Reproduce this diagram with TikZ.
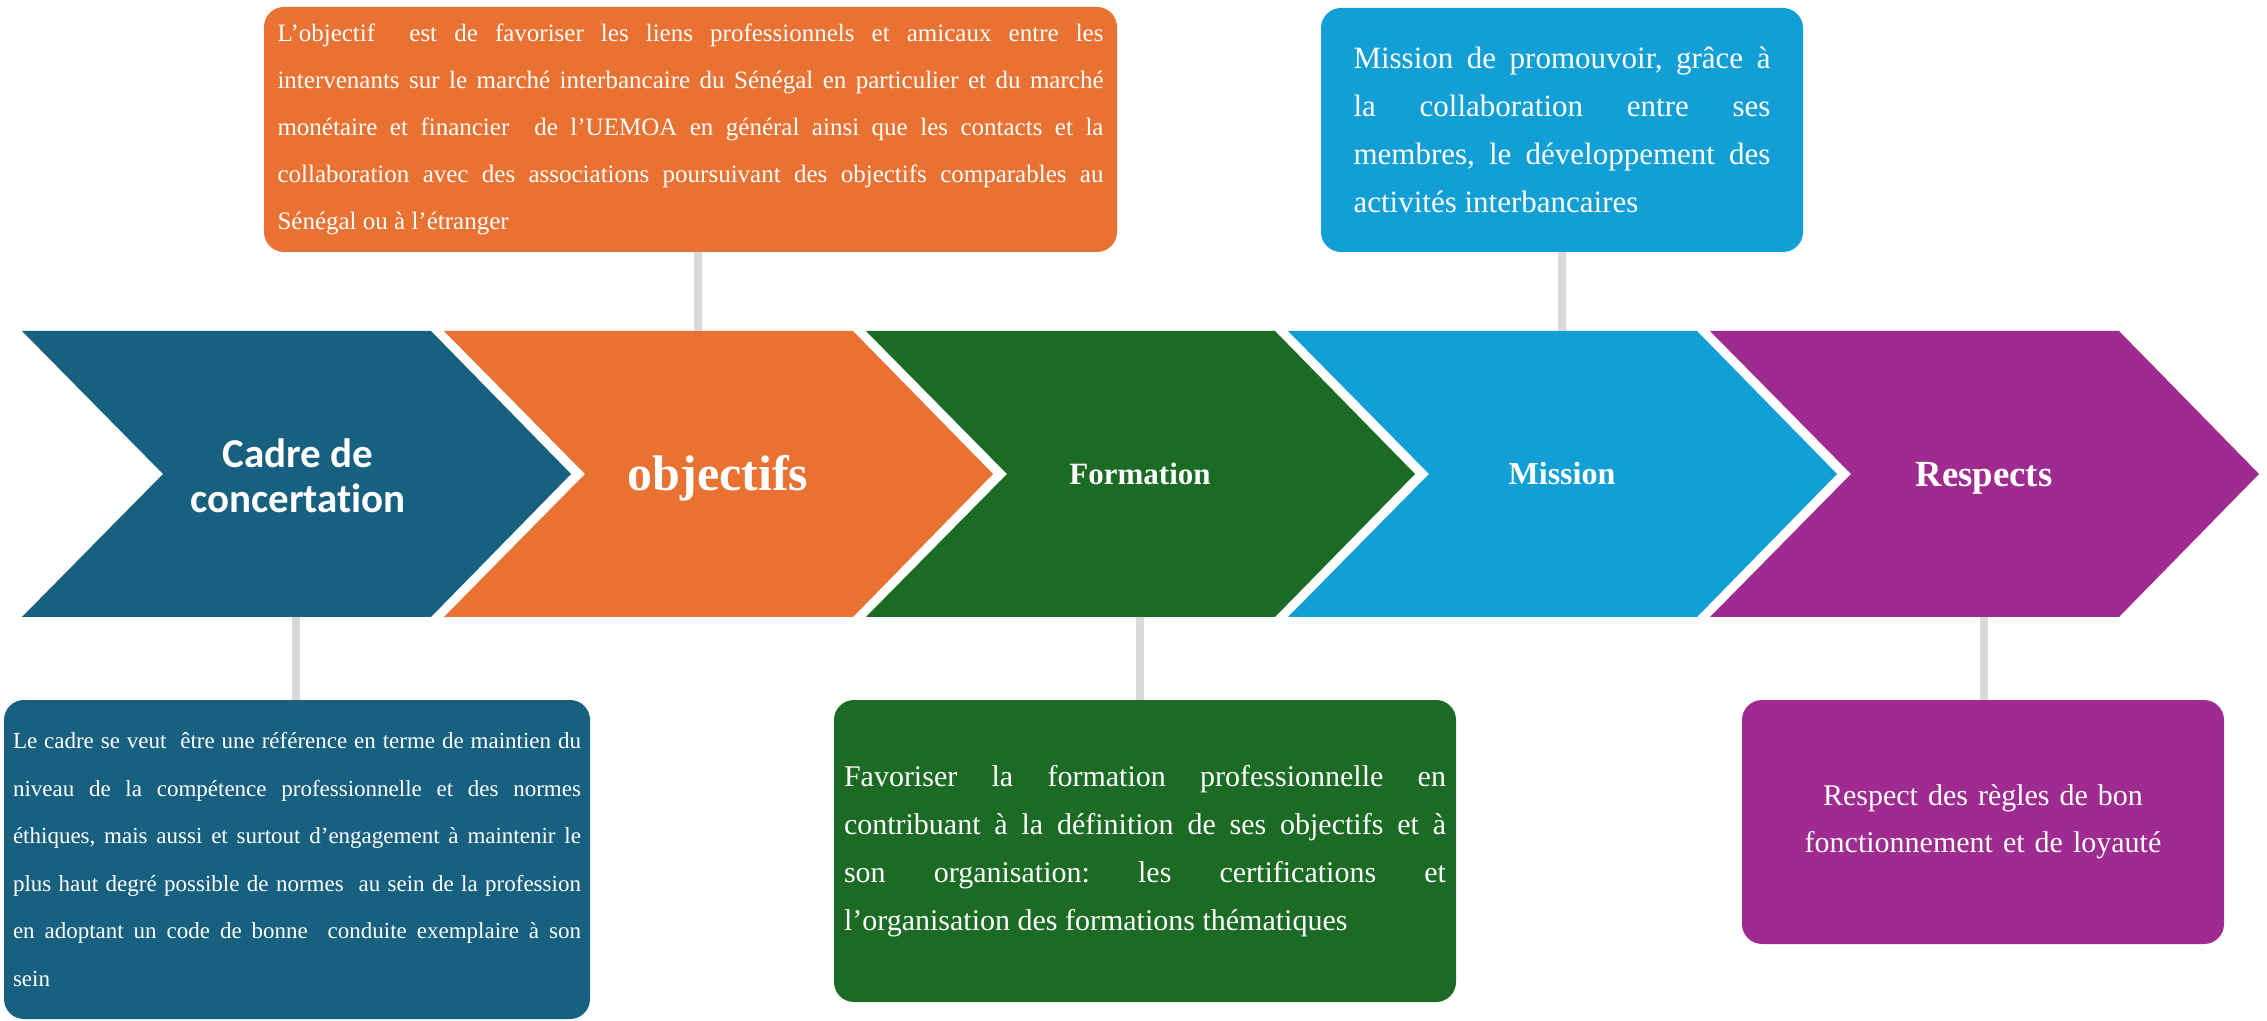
\documentclass[tikz,border=0pt]{standalone}
\usepackage{fontspec}
\setmainfont{Liberation Serif}
\newfontfamily\calibri{Carlito}[Ligatures=NoCommon]
\definecolor{cdblue}{HTML}{176080}
\definecolor{corange}{HTML}{E97132}
\definecolor{cgreen}{HTML}{1B6B24}
\definecolor{clblue}{HTML}{129FD6}
\definecolor{cpurple}{HTML}{A02B90}
\definecolor{linkgray}{HTML}{D9D9D9}
\frenchspacing
\begin{document}
\begin{tikzpicture}[x=0.5pt,y=-0.5pt,
  box/.style={rounded corners=10pt, inner sep=0pt, text=white, align=justify},
  link/.style={draw=linkgray, line width=4pt},
  clabel/.style={text=white, inner sep=0pt, font=\bfseries}]
\useasboundingbox (0,0) rectangle (2267,1021);
\fill[white] (0,0) rectangle (2267,1021);
% chevrons
\fill[cdblue, shift={(22,0)}]   (0,331) -- (409,331) -- (549,474) -- (409,617) -- (0,617) -- (141,474) -- cycle;
\fill[corange, shift={(444,0)}] (0,331) -- (409,331) -- (549,474) -- (409,617) -- (0,617) -- (141,474) -- cycle;
\fill[cgreen, shift={(866,0)}]  (0,331) -- (409,331) -- (549,474) -- (409,617) -- (0,617) -- (141,474) -- cycle;
\fill[clblue, shift={(1288,0)}] (0,331) -- (409,331) -- (549,474) -- (409,617) -- (0,617) -- (141,474) -- cycle;
\fill[cpurple, shift={(1710,0)}](0,331) -- (409,331) -- (549,474) -- (409,617) -- (0,617) -- (141,474) -- cycle;
% chevron labels
\node[clabel, align=center, font=\calibri\bfseries\fontsize{20.5pt}{22.5pt}\selectfont] (l1) at (298,476) {Cadre de\\concertation};
\node[clabel, anchor=base, font=\bfseries\fontsize{25pt}{28pt}\selectfont] (l2) at (718,491) {objectifs};
\node[clabel, anchor=base, font=\bfseries\fontsize{15.5pt}{18pt}\selectfont] (l3) at (1140,485) {Formation};
\node[clabel, anchor=base, font=\bfseries\fontsize{16pt}{18pt}\selectfont] (l4) at (1562,485) {Mission};
\node[clabel, anchor=base, font=\bfseries\fontsize{18.4pt}{20pt}\selectfont] (l5) at (1984,487) {Respects};
% connector end points on the chevrons
\coordinate (c1) at (296,617);
\coordinate (c2) at (698,331);
\coordinate (c3) at (1140,617);
\coordinate (c4) at (1562,331);
\coordinate (c5) at (1984,617);
% boxes
\node[box, fill=corange, minimum width=426.5pt, minimum height=122.5pt, text width=413pt,
  font=\fontsize{12.5pt}{23.5pt}\selectfont] (ob) at (690.5,129.5)
{L’objectif \ est de favoriser les liens professionnels et amicaux entre les\linebreak
intervenants sur le marché interbancaire du Sénégal en particulier et du marché\linebreak
monétaire et financier \ de l’UEMOA en général ainsi que les contacts et la\linebreak
collaboration avec des associations poursuivant des objectifs comparables au\linebreak
Sénégal ou à l'étranger};
\node[box, fill=clblue, minimum width=241pt, minimum height=122pt, text width=208.5pt,
  font=\fontsize{15.5pt}{24pt}\selectfont] (mb) at (1562,130)
{Mission de promouvoir, grâce à\linebreak
la collaboration entre ses\linebreak
membres, le développement des\linebreak
activités interbancaires};
\node[box, fill=cdblue, minimum width=293pt, minimum height=159.5pt, text width=284pt,
  font=\fontsize{11.5pt}{23.8pt}\selectfont] (cb) at (297,859.5)
{Le cadre se veut \ être une référence en terme de maintien du\linebreak
niveau de la compétence professionnelle et des normes\linebreak
éthiques, mais aussi et surtout d’engagement à maintenir le\linebreak
plus haut degré possible de normes \ au sein de la profession\linebreak
en adoptant un code de bonne \ conduite exemplaire à son\linebreak
sein};
\node[box, fill=cgreen, minimum width=311pt, minimum height=151pt, text width=301pt,
  font=\fontsize{15pt}{24pt}\selectfont] (fb) at (1145,851)
{Favoriser la formation professionnelle en\linebreak
contribuant à la définition de ses objectifs et à\linebreak
son organisation: les certifications et\linebreak
l’organisation des formations thématiques};
\node[box, fill=cpurple, minimum width=241pt, minimum height=122pt, text width=220pt, align=center,
  font=\fontsize{15pt}{23.5pt}\selectfont] (rb) at (1983,822)
{Respect des règles de bon\\fonctionnement et de loyauté};
% connectors
\draw[link] (c1) -- (c1 |- cb.north);
\draw[link] (ob.south -| c2) -- (c2);
\draw[link] (c3) -- (c3 |- fb.north);
\draw[link] (mb.south -| c4) -- (c4);
\draw[link] (c5) -- (c5 |- rb.north);
\end{tikzpicture}
\end{document}
